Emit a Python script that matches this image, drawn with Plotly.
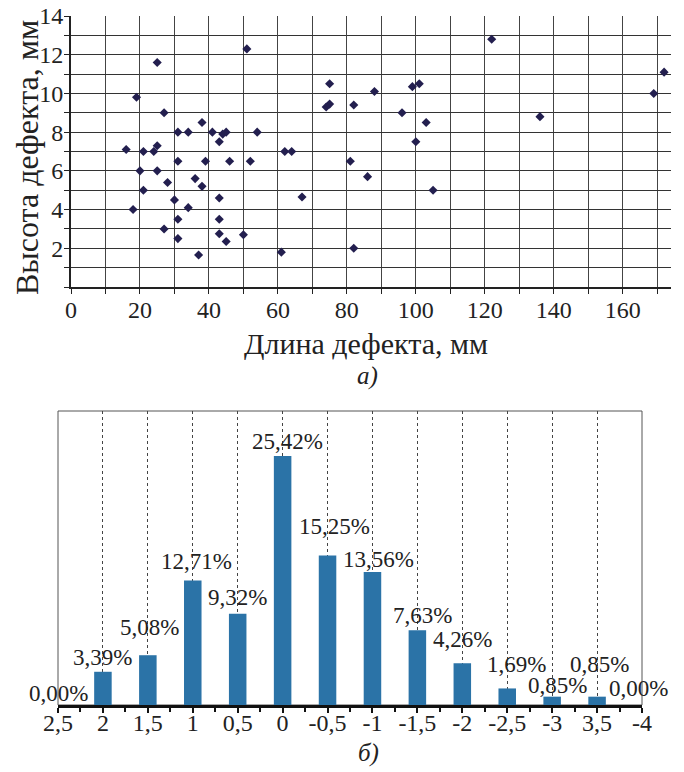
import plotly.graph_objects as go

# ---- data: scatter (top) ----
length_mm = [51, 25, 19, 27, 38, 31, 34, 41, 44, 45, 54, 43, 16, 21, 24, 25, 62, 64,
             31, 39, 46, 52, 20, 25, 36, 28, 38, 21, 67, 43, 30, 34, 18, 31, 43, 27,
             43, 50, 31, 45, 37, 61, 75, 75, 74, 81, 82, 88, 99, 101, 96, 103, 100,
             86, 105, 82, 122, 136, 169, 172]
height_mm = [12.3, 11.6, 9.8, 9.0, 8.5, 8.0, 8.0, 8.0, 7.9, 8.0, 8.0, 7.5, 7.1, 7.0,
             7.0, 7.3, 7.0, 7.0, 6.5, 6.5, 6.5, 6.5, 6.0, 6.0, 5.6, 5.4, 5.2, 5.0,
             4.65, 4.6, 4.5, 4.1, 4.0, 3.5, 3.5, 3.0, 2.75, 2.7, 2.5, 2.35, 1.65, 1.8,
             10.5, 9.45, 9.3, 6.5, 9.4, 10.1, 10.35, 10.5, 9.0, 8.5, 7.5, 5.7, 5.0,
             2.0, 12.8, 8.8, 10.0, 11.1]

# ---- data: histogram (bottom) ----
bins = ["2,5", "2", "1,5", "1", "0,5", "0", "-0,5", "-1", "-1,5", "-2", "-2,5",
        "-3", "3,5", "-4"]
percent = [0.00, 3.39, 5.08, 12.71, 9.32, 25.42, 15.25, 13.56, 7.63, 4.26, 1.69,
           0.85, 0.85, 0.00]

# label placement offsets (px) relative to bar tops
label_dy = [12, 14, 28, 19, 16, 14, 29, 13, 15, 24, 24, 11, 32, 17]
label_dx = [0, 0, 2, 4, 0, 5, 7, 6, 5, 0, 9, 5, 2, -4]

FONT = "Liberation Serif, Times New Roman, DejaVu Serif, serif"
TXT = "#222"
pos = list(range(len(bins)))

fig = go.Figure()

fig.add_trace(go.Scatter(
    x=length_mm, y=height_mm, mode="markers",
    marker=dict(symbol="diamond", size=7, color="#231f4f", line=dict(width=0)),
    xaxis="x", yaxis="y", showlegend=False, hoverinfo="skip"))

fig.add_trace(go.Bar(
    x=pos, y=percent, width=0.39, marker=dict(color="#2b73a7", line=dict(width=0)),
    xaxis="x2", yaxis="y2", showlegend=False, hoverinfo="skip"))

ann = []
for i, (p, v) in enumerate(zip(pos, percent)):
    ann.append(dict(x=p, y=v, xref="x2", yref="y2", text=f"{v:.2f}%".replace(".", ","),
                    showarrow=False, yanchor="middle", xanchor="center",
                    yshift=label_dy[i], xshift=label_dx[i],
                    font=dict(family=FONT, size=23, color=TXT)))

ann += [
    dict(text="Высота дефекта, мм", x=27 / 684, y=1 - 158 / 772, xref="paper", yref="paper",
         xanchor="center", yanchor="middle",
         textangle=-90, showarrow=False, font=dict(family=FONT, size=32, color=TXT)),
    dict(text="Длина дефекта, мм", x=366 / 684, y=1 - 343 / 772, xref="paper", yref="paper",
         xanchor="center", yanchor="middle",
         showarrow=False, font=dict(family=FONT, size=30, color=TXT)),
    dict(text="<i>а)</i>", x=367 / 684, y=1 - 376 / 772, xref="paper", yref="paper",
         xanchor="center", yanchor="middle",
         showarrow=False, font=dict(family=FONT, size=25, color=TXT)),
    dict(text="<i>б)</i>", x=368 / 684, y=1 - 753 / 772, xref="paper", yref="paper",
         xanchor="center", yanchor="middle",
         showarrow=False, font=dict(family=FONT, size=25, color=TXT)),
]

fig.update_layout(
    width=684, height=772,
    margin=dict(l=0, r=0, t=0, b=0),
    paper_bgcolor="white", plot_bgcolor="white",
    font=dict(family=FONT, color=TXT),
    annotations=ann,
    xaxis=dict(domain=[71 / 684, 671 / 684], range=[0, 174], tick0=0, dtick=20,
               showgrid=True, gridcolor="#444", gridwidth=1,
               minor=dict(dtick=10, showgrid=True, gridcolor="#444", ticks="outside",
                          ticklen=5, tickcolor="#222"),
               ticks="outside", ticklen=5, tickcolor="#222",
               showline=True, linecolor="#222", linewidth=2, zeroline=False,
               tickfont=dict(family=FONT, size=24, color=TXT), automargin=False,
               ticklabelstandoff=-5, anchor="y"),
    yaxis=dict(domain=[1 - 287 / 772, 1 - 16 / 772], range=[0, 14],
               tickvals=[2, 4, 6, 8, 10, 12, 14],
               showgrid=True, gridcolor="#333", gridwidth=1,
               minor=dict(dtick=1, showgrid=True, gridcolor="#333", ticks="outside",
                          ticklen=5, tickcolor="#222"),
               ticks="outside", ticklen=5, tickcolor="#222",
               showline=True, linecolor="#222", linewidth=2, zeroline=False,
               tickfont=dict(family=FONT, size=24, color=TXT), automargin=False,
               ticklabelstandoff=-4, anchor="x"),
    xaxis2=dict(domain=[58 / 684, 642 / 684], range=[0, 13],
                tickvals=pos, ticktext=bins,
                showgrid=True, gridcolor="#444", gridwidth=1, griddash="dot",
                minor=dict(dtick=0.5, ticks="outside", ticklen=4, tickwidth=2,
                           tickcolor="#111"),
                ticks="outside", ticklen=5, tickwidth=2, tickcolor="#111",
                showline=True, linecolor="#111", linewidth=3, zeroline=False,
                tickfont=dict(family=FONT, size=24, color=TXT), automargin=False,
                ticklabelstandoff=-11, anchor="y2"),
    yaxis2=dict(domain=[1 - 705 / 772, 1 - 411 / 772], range=[0, 30],
                showticklabels=False, showgrid=False, zeroline=False, ticks="",
                automargin=False, anchor="x2"),
    shapes=[dict(type="rect", xref="x2 domain", yref="y2 domain", x0=0, y0=0, x1=1, y1=1,
                 line=dict(color="#555", width=1), layer="below")],
)

fig.write_html("out.html", config={"displayModeBar": False},
               post_script="document.body.style.margin='0';document.body.style.overflow='hidden';")
